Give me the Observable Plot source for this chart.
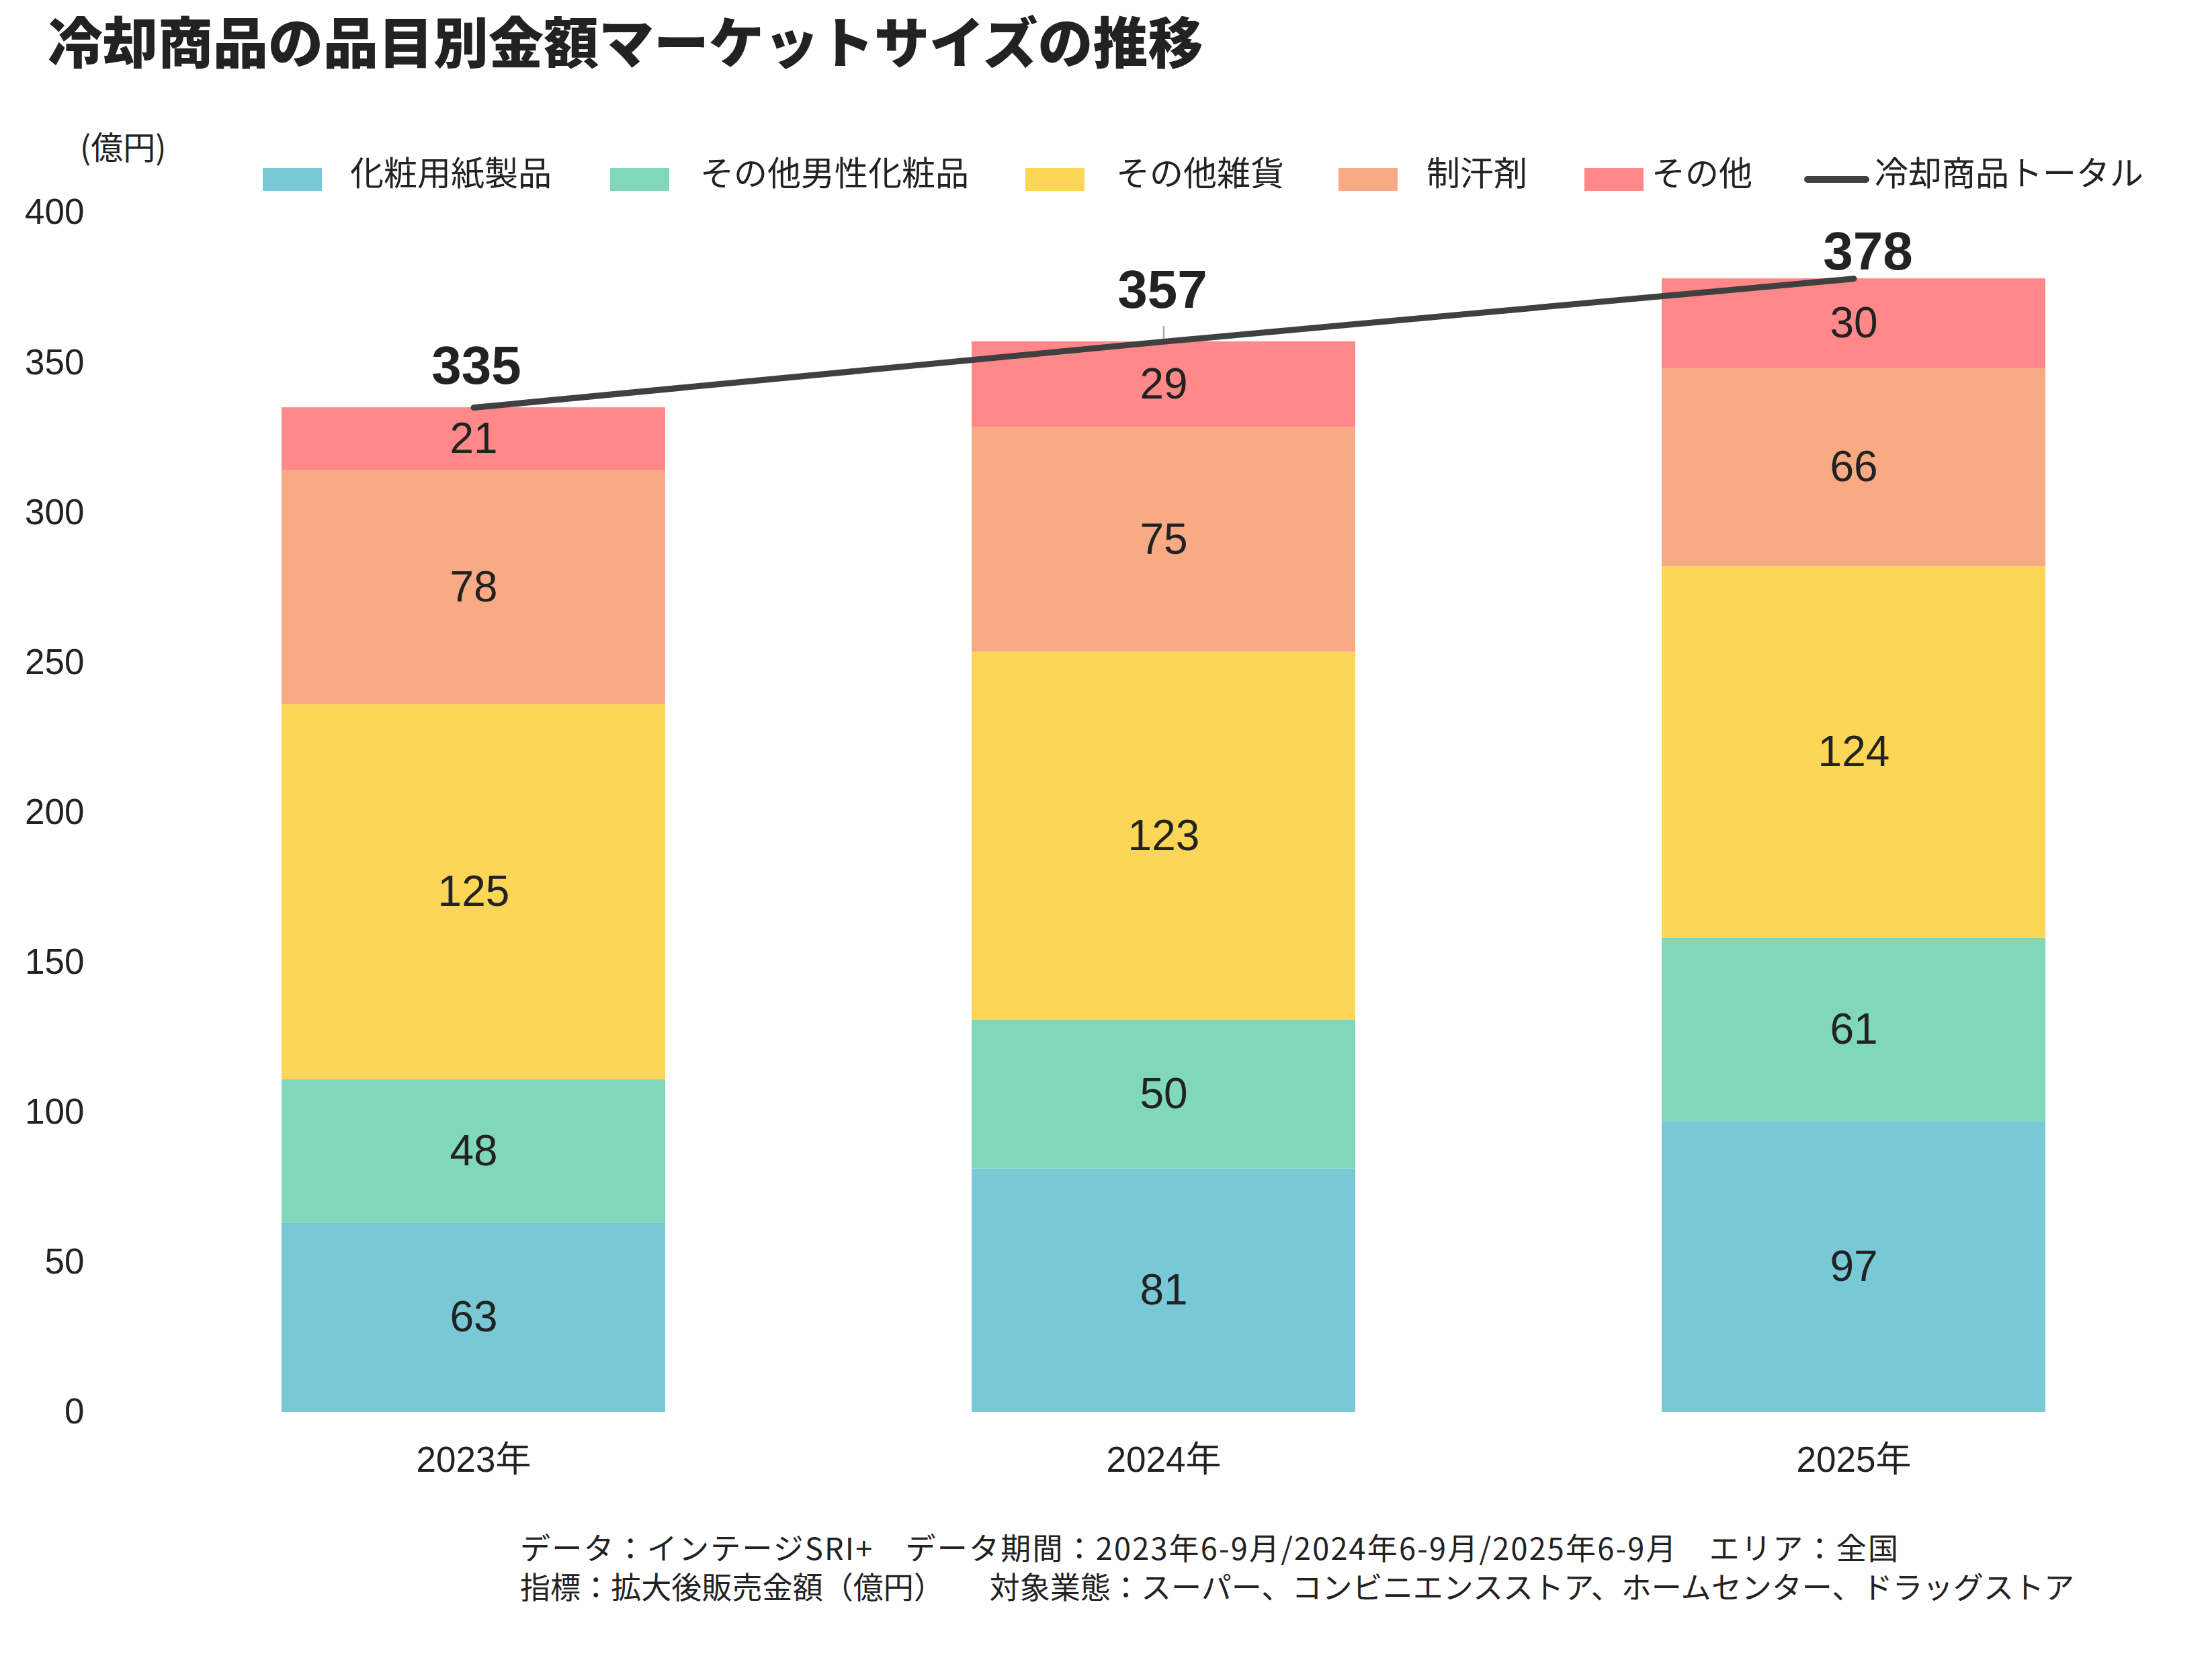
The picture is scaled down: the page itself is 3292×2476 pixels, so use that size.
<!DOCTYPE html>
<html><head><meta charset="utf-8">
<script src="https://cdn.jsdelivr.net/npm/d3@7"></script>
<script src="https://cdn.jsdelivr.net/npm/@observablehq/plot@0.6"></script>
<style>
body{margin:0;background:#fff;}
#page{position:relative;width:3292px;height:2476px;overflow:hidden;background:#fff;color:#222;}
.abs{position:absolute;white-space:nowrap;font-family:"Noto Sans CJK JP",sans-serif;}
#chart{position:absolute;left:0;top:280px;z-index:0;}
.top{z-index:2;}
</style></head><body><div id="page"></div>
<script>
// ---- data ----
const years = ["2023年", "2024年", "2025年"];
const items = ["化粧用紙製品", "その他男性化粧品", "その他雑貨", "制汗剤", "その他"];
const colors = ["#78C8D6", "#80D7B9", "#FDD658", "#F8AA84", "#FF8989"];
const paperProducts = [63, 81.2, 97];
const otherMensCosmetics = [48, 49.6, 61];
const otherGoods = [125, 122.7, 124];
const antiperspirant = [78, 74.9, 66];
const others = [21, 28.6, 30];
const totals = [335, 357, 378];
const totalName = "冷却商品トータル";
const yTicks = [0, 50, 100, 150, 200, 250, 300, 350, 400];
const titleText = "冷却商品の品目別金額マーケットサイズの推移";
const unitText = "(億円)";
const captionLines = [
  "データ：インテージSRI+\u3000データ期間：2023年6-9月/2024年6-9月/2025年6-9月\u3000エリア：全国",
  "指標：拡大後販売金額（億円）\u3000\u3000対象業態：スーパー、コンビニエンスストア、ホームセンター、ドラッグストア"
];

// ---- layout (not data) ----
const legendSwatchX = [391, 908, 1526, 1992, 2358];
const legendTextX = [521, 1042, 1661, 2123, 2458];
const totalLabelDx = [4, -2, 21];
const totalLabelDy = [-61, -76, -39];
const captionTargetWidth = [2053, 2313];

const series = [paperProducts, otherMensCosmetics, otherGoods, antiperspirant, others];
const long = [];
items.forEach((it, k) => years.forEach((yr, i) => long.push({year: yr, item: it, value: series[k][i]})));
const totalData = years.map((yr, i) => ({year: yr, total: totals[i], idx: i}));
const fmt = d3.format(".0f");
const numFont = '"Liberation Sans", Arial, "Noto Sans CJK JP", sans-serif';

const page = document.getElementById("page");
function addDiv(text, css, cls = "abs top") {
  const d = document.createElement("div");
  d.className = cls;
  d.textContent = text;
  Object.assign(d.style, css);
  page.appendChild(d);
  return d;
}

// title
addDiv(titleText, {left: "71px", top: "18px", fontSize: "82px", lineHeight: "82px", fontWeight: "900", color: "#222"});
// unit label
addDiv(unitText, {left: "119px", top: "192px", fontSize: "48px", lineHeight: "48px", color: "#222"});
// legend
items.forEach((it, k) => {
  addDiv("", {left: legendSwatchX[k] + "px", top: "250px", width: "88px", height: "34px", background: colors[k]});
  addDiv(it, {left: legendTextX[k] + "px", top: "229px", fontSize: "50px", lineHeight: "50px", color: "#222"});
});
addDiv("", {left: "2685px", top: "262px", width: "97px", height: "10px", background: "#404040", borderRadius: "5px"});
addDiv(totalName, {left: "2790px", top: "229px", fontSize: "50px", lineHeight: "50px", color: "#222"});
// caption
captionLines.forEach((t, i) => {
  const d = addDiv(t, {left: "774px", top: (2279 + i * 58) + "px", fontSize: "45px", lineHeight: "45px", color: "#222"});
  const w = d.getBoundingClientRect().width;
  const n = [...t].length;
  d.style.letterSpacing = ((captionTargetWidth[i] - w) / n).toFixed(2) + "px";
});

const chart = Plot.plot({
  width: 3292,
  height: 1920,
  marginTop: 36,
  marginBottom: 99,
  marginLeft: 150,
  marginRight: 0,
  style: {fontFamily: numFont, fontSize: "53px", color: "#222", background: "transparent", overflow: "visible"},
  x: {type: "band", domain: years, range: [212.5, 3249.5], paddingInner: 0.4443, paddingOuter: 0.2, label: null},
  y: {domain: [0, 400], label: null},
  color: {domain: items, range: colors},
  marks: [
    Plot.barY(long, Plot.stackY({x: "year", y: "value", fill: "item"})),
    Plot.text(long, Plot.stackY({x: "year", y: "value", text: d => fmt(d.value), fontSize: 64, fill: "#222"})),
    Plot.ruleX(totalData.filter(d => d.idx === 1), {x: "year", y1: "total", y2: "total", insetTop: 1, insetBottom: 23, stroke: "#aaaaaa", strokeWidth: 2.5}),
    Plot.line(totalData, {x: "year", y: "total", stroke: "#404040", strokeWidth: 9, strokeLinecap: "round", strokeLinejoin: "round"}),
    ...totalData.map((t, i) => Plot.text([t], {x: "year", y: "total", text: d => fmt(d.total), fontSize: 80, fontWeight: "bold", fill: "#222", dx: totalLabelDx[i], dy: totalLabelDy[i]})),
    Plot.axisY({ticks: yTicks, tickSize: 0, tickPadding: 25, fontSize: 53, label: null}),
    Plot.axisX({tickSize: 0, tickPadding: 51, fontSize: 53, label: null})
  ]
});
chart.id = "chart";
page.appendChild(chart);
</script>
</body></html>
